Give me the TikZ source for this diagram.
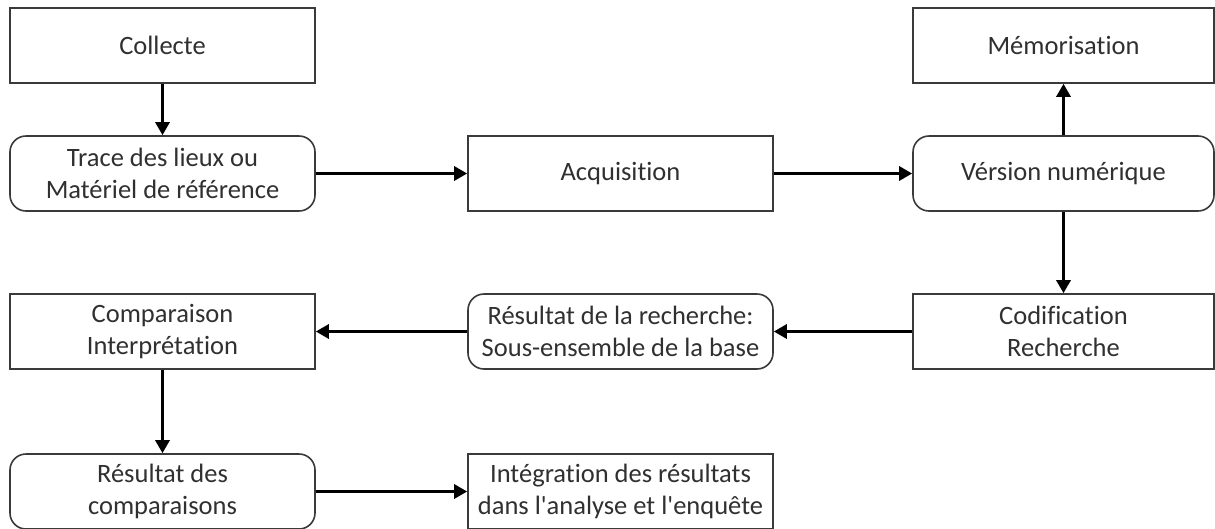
\documentclass[tikz,border=0pt]{standalone}
\usepackage{fontspec}
\setmainfont{Carlito}[Ligatures={NoCommon}]
\usetikzlibrary{arrows.meta}
\definecolor{boxline}{HTML}{3A3A3A}
\definecolor{boxtext}{HTML}{303030}
\tikzset{
  stepbox/.style={draw=boxline, line width=1.6pt, fill=white, rectangle,
    minimum height=75pt, inner sep=0pt, align=center, text=boxtext,
    font=\fontsize{26.5}{32}\selectfont},
  roundbox/.style={stepbox, rounded corners=16pt},
  flow/.style={line width=3pt, black, -{Triangle[length=13pt,width=14pt]}}
}
\begin{document}
\begin{tikzpicture}[x=1pt,y=-1pt]
\useasboundingbox (0,0) rectangle (1215,528);
% left column
\node[stepbox, minimum width=305pt] (collecte) at (162.5,45.5) {Collecte};
\node[roundbox, minimum width=305pt] (trace) at (162.5,173.5) {Trace des lieux ou\\Matériel de référence};
\node[stepbox, minimum width=305pt] (comp) at (162.5,331.5) {Comparaison\\Interprétation};
\node[roundbox, minimum width=305pt] (rescomp) at (162.5,491.5) {Résultat des\\comparaisons};
% middle column
\node[stepbox, minimum width=305pt] (acq) at (620.5,173.5) {Acquisition};
\node[roundbox, minimum width=305pt] (resrech) at (620.5,331.5) {Résultat de la recherche:\\Sous-ensemble de la base};
\node[stepbox, minimum width=305pt] (integ) at (620.5,491.5) {Intégration des résultats\\dans l\textquotesingle analyse et l\textquotesingle enquête};
% right column
\node[stepbox, minimum width=301pt] (memo) at (1063.5,45.5) {Mémorisation};
\node[roundbox, minimum width=301pt] (version) at (1063.5,173.5) {Vérsion numérique};
\node[stepbox, minimum width=301pt] (codif) at (1063.5,331.5) {Codification\\Recherche};
% connectors
\draw[flow] (collecte) -- (trace);
\draw[flow] (trace) -- (acq);
\draw[flow] (acq) -- (version);
\draw[flow] (version) -- (memo);
\draw[flow] (version) -- (codif);
\draw[flow] (codif) -- (resrech);
\draw[flow] (resrech) -- (comp);
\draw[flow] (comp) -- (rescomp);
\draw[flow] (rescomp) -- (integ);
\end{tikzpicture}
\end{document}
